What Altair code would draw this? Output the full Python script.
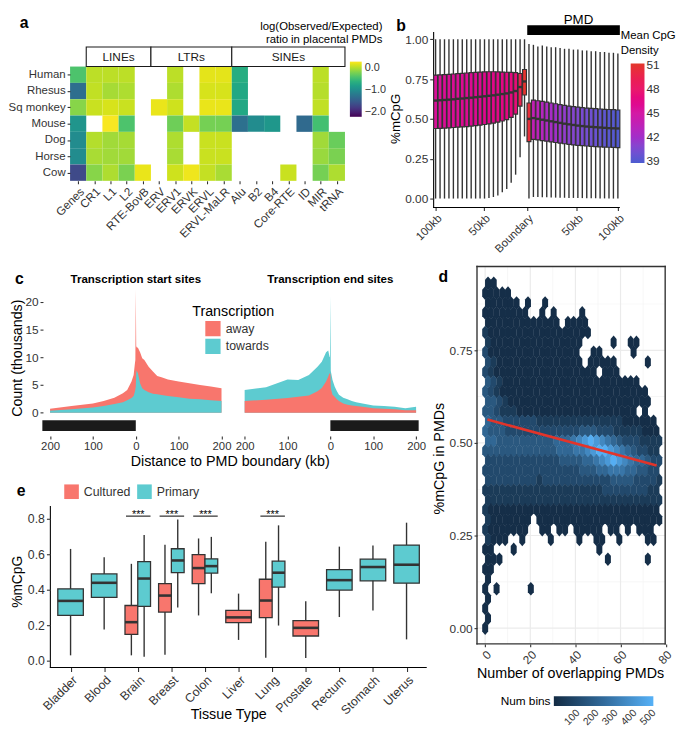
import altair as alt
import pandas as pd

FONT = "Liberation Sans"
DARK = "#333333"
SALMON = "#F8766D"
TEAL = "#5DCBD0"

# ======================= panel a data =======================
a_species = ["Human", "Rhesus", "Sq monkey", "Mouse", "Dog", "Horse", "Cow"]
a_elements = ["Genes", "CR1", "L1", "L2", "RTE-BovB", "ERV", "ERV1", "ERVK", "ERVL",
              "ERVL-MaLR", "Alu", "B2", "B4", "Core-RTE", "ID", "MIR", "tRNA"]
N = None
a_human = [-0.40, 0.05, 0.05, 0.05, N, N, 0.05, N, 0.20, 0.20, -0.65, N, N, N, N, 0.05, N]
a_rhesus = [-1.30, 0.07, -0.03, 0.00, N, N, 0.00, N, 0.15, 0.15, -0.70, N, N, N, N, 0.03, N]
a_sqmonkey = [-0.15, 0.10, 0.15, 0.10, N, 0.22, 0.12, N, 0.22, 0.22, -0.70, N, N, N, N, 0.07, N]
a_mouse = [-0.90, N, 0.28, -0.40, N, N, -0.25, 0.08, -0.22, -0.22, -1.28, -1.00, -0.88, N, -1.35, -0.45, N]
a_dog = [-1.00, 0.02, -0.05, -0.03, N, N, 0.00, N, 0.10, 0.10, N, N, N, N, N, -0.05, -0.27]
a_horse = [-1.00, -0.02, -0.05, -0.05, N, N, -0.02, N, 0.10, 0.10, N, N, N, N, N, -0.08, -0.20]
a_cow = [-1.65, -0.15, 0.00, -0.20, 0.22, N, 0.12, 0.24, 0.08, -0.02, N, N, N, 0.10, N, -0.22, 0.00]
a_groups = ["LINEs", "LTRs", "SINEs"]
a_group_first = ["CR1", "ERV", "Alu"]
a_group_last = ["RTE-BovB", "ERVL-MaLR", "tRNA"]

# ======================= panel b data =======================
b_tick_pos = [0, 10.86, 20.55, 31.8, 41]
b_tick_lab = ["100kb", "50kb", "Boundary", "50kb", "100kb"]
b_low_left = [0, 0, 0, 0, 0, 0, 0, 0, 0, 0, 0, 0, 0.003, 0.01, 0.02, 0.04, 0.06, 0.10, 0.15, 0.26, 0.39]
b_q1_left = [0.44, 0.441, 0.442, 0.444, 0.446, 0.448, 0.45, 0.452, 0.455, 0.458, 0.461, 0.465,
             0.469, 0.474, 0.48, 0.487, 0.495, 0.51, 0.53, 0.58, 0.65]
b_med_left = [0.615, 0.617, 0.619, 0.621, 0.623, 0.626, 0.628, 0.631, 0.633, 0.636, 0.639, 0.642,
              0.645, 0.648, 0.652, 0.656, 0.66, 0.666, 0.675, 0.70, 0.735]
b_q3_left = [0.775, 0.776, 0.778, 0.78, 0.782, 0.784, 0.786, 0.788, 0.79, 0.792, 0.794, 0.795,
             0.796, 0.796, 0.795, 0.794, 0.793, 0.792, 0.79, 0.785, 0.81]
b_high_left = [1.0] * 21
b_dens_left = [45.6, 45.6, 45.7, 45.7, 45.8, 45.8, 45.9, 45.9, 46.0, 46.0, 46.1, 46.2, 46.3,
               46.4, 46.5, 46.6, 46.8, 47.0, 47.3, 49.5, 51.0]
b_low_right = [0.0, 0.01, 0.01, 0.008, 0.008, 0.007, 0.006, 0.005, 0.005, 0.004, 0.004, 0.003,
               0.003, 0.002, 0.002, 0.002, 0.001, 0.001, 0.0, 0.0, 0.0]
b_q1_right = [0.357, 0.372, 0.368, 0.364, 0.36, 0.356, 0.352, 0.348, 0.344, 0.34, 0.337, 0.334,
              0.332, 0.33, 0.328, 0.326, 0.324, 0.323, 0.322, 0.321, 0.32]
b_med_right = [0.50, 0.505, 0.50, 0.495, 0.49, 0.485, 0.48, 0.475, 0.47, 0.466, 0.462, 0.458,
               0.455, 0.452, 0.45, 0.448, 0.446, 0.444, 0.442, 0.441, 0.44]
b_q3_right = [0.60, 0.618, 0.614, 0.61, 0.605, 0.60, 0.595, 0.59, 0.585, 0.58, 0.577, 0.574,
              0.571, 0.568, 0.566, 0.564, 0.562, 0.56, 0.559, 0.558, 0.556]
b_high_right = [0.97, 0.965, 0.955, 0.96, 0.955, 0.95, 0.95, 0.945, 0.94, 0.94, 0.935, 0.935,
                0.93, 0.93, 0.925, 0.925, 0.92, 0.92, 0.915, 0.915, 0.91]
b_dens_right = [50.5, 43.8, 43.4, 43.0, 42.6, 42.3, 42.0, 41.7, 41.4, 41.1, 40.9, 40.7, 40.5,
                40.3, 40.1, 39.9, 39.7, 39.5, 39.3, 39.2, 39.0]

# ======================= panel c data =======================
c_dist = [-200, -150, -100, -75, -50, -30, -20, -10, -5, -2, -1, 0, 1, 2, 5, 10, 15, 20, 30, 40,
          50, 60, 75, 100, 125, 150, 175, 200]
c_tss_away = [0.7, 1.2, 1.65, 2.1, 2.7, 3.5, 4.1, 5.6, 6.8, 8.9, 9.5, 22.2, 12.0, 11.8, 11.7, 10.9,
              9.8, 9.5, 8.3, 7.4, 6.6, 6.4, 6.0, 5.6, 5.3, 5.0, 4.7, 4.4]
c_tss_towards = [0.35, 0.6, 0.95, 1.2, 1.55, 1.9, 2.25, 2.65, 3.0, 3.8, 4.2, 4.7, 7.0, 7.6, 7.1,
                 5.3, 4.4, 4.1, 3.7, 3.4, 3.3, 3.2, 3.0, 2.8, 2.5, 2.4, 2.25, 2.1]
c_tes_towards = [4.1, 4.6, 6.0, 5.9, 6.8, 8.3, 9.2, 10.9, 11.2, 10.1, 10.0, 21.0, 7.5, 7.1, 5.9,
                 4.7, 3.9, 3.25, 2.7, 2.4, 2.1, 1.9, 1.65, 1.3, 1.2, 1.05, 0.8, 1.05]
c_tes_away = [2.1, 2.35, 2.65, 2.85, 3.1, 3.85, 4.45, 5.6, 6.5, 7.1, 7.0, 7.0, 4.5, 4.1, 3.25, 2.85,
              2.4, 2.1, 1.65, 1.45, 1.3, 1.2, 1.05, 0.8, 0.7, 0.6, 0.45, 0.45]
c_facets = ["Transcription start sites", "Transcription end sites"]
c_pmd_bar_start = [-218, 0]
c_pmd_bar_end = [0, 206]

# ======================= panel d data =======================
# hexbin counts: one string per hex row (top row first),
# one character per hex column; '.' = empty, '1'..'9' = count level
d_hex_rows = [
    "11",
    "11111",
    "111111.1..1",
    "11111111..1.1....1",
    "1111111111111.1111",
    "2111111111111111111",
    "21111111111111111.....1..11",
    "31111111111111111..11.....1",
    "32111111111111111.11111.....1",
    "32111111111111111111.111",
    "432111111111111111111111111",
    "43211111111111111111111111111",
    "44321111111111111111111111111",
    "443222111111111111111111111.1",
    "544333333222222222222222111111",
    "5444333333333333344433322222111",
    "5544444444445556789876543332222",
    "4444444444444555667899876543322",
    "3333333333333444455678987655433",
    "3333333333333333344455666554433",
    "3333333332333333333333444433332",
    "2222222222222222222223333333322",
    "2222222222222222222222222222222",
    "2111111111111111111111111111111",
    "21111111.1111111111111111111111",
    "21111111..11.11.11111.11.1.111",
    "2111..1....1....1..11..1....11",
    "11...1..............1",
    "111..................1......1",
    "11",
    "1",
    "1.1.....1",
    "1",
    "1",
    "1",
    "1",
]
d_level_count = {"1": 20, "2": 75, "3": 135, "4": 195, "5": 255, "6": 315, "7": 380, "8": 445, "9": 520}
d_hex_dx = 2.53
d_hex_dy = 0.0266
d_fit_x = [1, 76]
d_fit_y = [0.563, 0.439]
d_count_domain = [5, 530]
d_legend_values = [100, 200, 300, 400, 500]
d_panel_x = [-3.62, 79.78]      # panel limits (data units)
d_panel_y = [-0.0426, 0.9761]

# ======================= panel e data =======================
e_tissues = ["Bladder", "Blood", "Brain", "Breast", "Colon", "Liver", "Lung", "Prostate",
             "Rectum", "Stomach", "Uterus"]
e_tissue = ["Bladder", "Blood", "Brain", "Brain", "Breast", "Breast", "Colon", "Colon", "Liver",
            "Lung", "Lung", "Prostate", "Rectum", "Stomach", "Uterus"]
e_group = ["Primary", "Primary", "Cultured", "Primary", "Cultured", "Primary", "Cultured", "Primary",
           "Cultured", "Cultured", "Primary", "Cultured", "Primary", "Primary", "Primary"]
e_low = [0.03, 0.176, 0.03, 0.022, 0.033, 0.30, 0.255, 0.38, 0.117, 0.017, 0.198, 0.015, 0.246, 0.283, 0.12]
e_q1 = [0.255, 0.357, 0.148, 0.306, 0.274, 0.496, 0.435, 0.494, 0.215, 0.243, 0.415, 0.139, 0.398, 0.45, 0.437]
e_med = [0.337, 0.439, 0.217, 0.463, 0.367, 0.565, 0.522, 0.533, 0.244, 0.339, 0.496, 0.185, 0.454, 0.528, 0.541]
e_q3 = [0.405, 0.489, 0.311, 0.559, 0.435, 0.631, 0.598, 0.574, 0.283, 0.459, 0.561, 0.226, 0.513, 0.572, 0.652]
e_high = [0.63, 0.583, 0.546, 0.709, 0.654, 0.796, 0.689, 0.698, 0.378, 0.67, 0.763, 0.335, 0.643, 0.65, 0.778]
e_sig_tissues = ["Brain", "Breast", "Colon", "Lung"]
e_sig_label = "***"
e_sig_level = 0.815


# ======================= helpers =======================
def bg_layer(w, h):
    return alt.Chart(pd.DataFrame({"k": [0]})).mark_rect(opacity=0, strokeWidth=0).encode(
        x=alt.value(0), x2=alt.value(w), y=alt.value(0), y2=alt.value(h))


def px_rect(x1, x2, y1, y2, color):
    return alt.Chart(pd.DataFrame({"k": [0]})).mark_rect(color=color, strokeWidth=0).encode(
        x=alt.value(x1), x2=alt.value(x2), y=alt.value(y1), y2=alt.value(y2))


def px_line(x1, x2, y1, y2, color="black", width=1.1):
    return alt.Chart(pd.DataFrame({"k": [0]})).mark_rule(color=color, strokeWidth=width).encode(
        x=alt.value(x1), x2=alt.value(x2), y=alt.value(y1), y2=alt.value(y2))


def text_layer(text, x, y, size=16, weight="bold", align="left", color="black", angle=0,
               baseline="alphabetic"):
    return alt.Chart(pd.DataFrame({"t": [text]})).mark_text(
        font=FONT, fontSize=size, fontWeight=weight, align=align, angle=angle,
        baseline=baseline, color=color).encode(
        x=alt.value(x), y=alt.value(y), text="t:N")


def ytitle(text, x, y, size=14.5):
    return text_layer(text, x, y, size=size, weight="normal", align="center", angle=270,
                      baseline="middle")


def list_expr(items, fn="floor"):
    return "[" + ",".join("'" + s + "'" for s in items) + "][" + fn + "(datum.value)]"


def step_expr(pos, labs):
    expr = "'" + labs[-1] + "'"
    for k in range(len(pos) - 2, -1, -1):
        mid = (pos[k] + pos[k + 1]) / 2
        expr = "datum.value < " + str(mid) + " ? '" + labs[k] + "' : (" + expr + ")"
    return expr


def lin_scale(size, origin_px, px_per_unit, vertical=False):
    # domain that puts value 0 at origin_px (from left, or from top for vertical) in a range of `size` px
    if vertical:
        return alt.Scale(domain=[-(size - origin_px) / px_per_unit, origin_px / px_per_unit],
                         nice=False, zero=False)
    return alt.Scale(domain=[-origin_px / px_per_unit, (size - origin_px) / px_per_unit],
                     nice=False, zero=False)


# ======================= panel a =======================
A_W, A_H = 382, 247
n_sp, n_el = len(a_species), len(a_elements)
a_matrix = [a_human, a_rhesus, a_sqmonkey, a_mouse, a_dog, a_horse, a_cow]
cells = []
for si, (sp, rowvals) in enumerate(zip(a_species, a_matrix)):
    for ci, (el, v) in enumerate(zip(a_elements, rowvals)):
        if v is None:
            continue
        cells.append({"sp": sp, "el": el, "cx0": ci, "cx1": ci + 1,
                      "cy0": n_sp - 1 - si, "cy1": n_sp - si, "logoe": v})
df_a = pd.DataFrame(cells)
a_col0, a_colpx = 61, 279 / n_el
a_row0, a_rowpx = 170, 16.57
a_xs = lin_scale(A_W, a_col0, a_colpx)
a_ys = lin_scale(A_H, a_row0, a_rowpx, vertical=True)
a_xaxis = alt.Axis(values=[i + 0.5 for i in range(n_el)], labelExpr=list_expr(a_elements),
                   labelAngle=-45, labelAlign="right", labelBaseline="top", domain=False,
                   grid=False, tickSize=3, labelFlush=False, labelOverlap=False, title=None,
                   labelPadding=2, labelFontSize=11.8, offset=-(A_H - a_row0), zindex=2)
a_yaxis = alt.Axis(values=[i + 0.5 for i in range(n_sp)],
                   labelExpr=list_expr(list(reversed(a_species))), domain=False, grid=False,
                   tickSize=3, labelOverlap=False, title=None, labelPadding=2, labelFontSize=11.6,
                   offset=-a_col0, zindex=2)
heat = alt.Chart(df_a).mark_rect(strokeWidth=0).encode(
    x=alt.X("cx0:Q", scale=a_xs, axis=a_xaxis), x2="cx1:Q",
    y=alt.Y("cy0:Q", scale=a_ys, axis=a_yaxis), y2="cy1:Q",
    color=alt.Color("logoe:Q", scale=alt.Scale(scheme="viridis", domain=[-2.2, 0.3]),
                    legend=alt.Legend(orient="none", legendX=345, legendY=49, title=None,
                                      direction="vertical", gradientLength=56,
                                      gradientThickness=12, gradientStrokeWidth=0,
                                      values=[0.0, -1.0, -2.0], format=".1f",
                                      labelFontSize=11, labelOffset=3)))
df_strip = pd.DataFrame({"grp": a_groups,
                         "s0": [a_elements.index(f) for f in a_group_first],
                         "s1": [a_elements.index(l) + 1 for l in a_group_last]})
df_strip["smid"] = (df_strip["s0"] + df_strip["s1"]) / 2
df_strip["sy0"] = n_sp
df_strip["sy1"] = n_sp + 1.2
df_strip["symid"] = n_sp + 0.6
strip = alt.Chart(df_strip).mark_rect(fill="white", stroke="#1a1a1a", strokeWidth=1.1).encode(
    x=alt.X("s0:Q", scale=a_xs, axis=a_xaxis), x2="s1:Q",
    y=alt.Y("sy0:Q", scale=a_ys, axis=a_yaxis), y2="sy1:Q")
strip_txt = alt.Chart(df_strip).mark_text(font=FONT, fontSize=12, color="#1a1a1a").encode(
    x=alt.X("smid:Q", scale=a_xs, axis=a_xaxis), y=alt.Y("symid:Q", scale=a_ys, axis=a_yaxis),
    text="grp:N")
panel_a = alt.layer(
    bg_layer(A_W, A_H), heat, strip, strip_txt,
    text_layer("log(Observed/Expected)", 378, 17, size=11.5, weight="normal", align="right"),
    text_layer("ratio in placental PMDs", 378, 30, size=11.5, weight="normal", align="right"),
    text_layer("a", 10, 15),
).properties(width=A_W, height=A_H)

# ======================= panel b =======================
B_W, B_H = 295, 247
df_b = pd.DataFrame({
    "bp": list(range(42)),
    "blo": b_low_left + b_low_right, "bq1": b_q1_left + b_q1_right,
    "bmed": b_med_left + b_med_right, "bq3": b_q3_left + b_q3_right,
    "bhi": b_high_left + b_high_right, "dens": b_dens_left + b_dens_right})
df_b["bl"] = df_b["bp"] - 0.44
df_b["br"] = df_b["bp"] + 0.44
b_xs = lin_scale(B_W, 50, 4.512)
b_ys = lin_scale(B_H, 188, 161.7, vertical=True)
b_xaxis = alt.Axis(values=b_tick_pos, labelExpr=step_expr(b_tick_pos, b_tick_lab), labelAngle=-45,
                   labelAlign="right", labelBaseline="top", grid=False, domain=False, tickSize=3,
                   labelFlush=False, labelOverlap=False, title=None, labelFontSize=11.5,
                   offset=-(B_H - 197), zindex=2)
b_yaxis = alt.Axis(values=[0, 0.25, 0.5, 0.75, 1.0], format=".2f", grid=False, domain=False,
                   tickSize=4, title=None, labelFontSize=12, offset=-48, zindex=2)
b_whisk = alt.Chart(df_b).mark_rule(color=DARK, strokeWidth=1.4).encode(
    x=alt.X("bp:Q", scale=b_xs, axis=b_xaxis),
    y=alt.Y("blo:Q", scale=b_ys, axis=b_yaxis), y2="bhi:Q")
b_boxes = alt.Chart(df_b).mark_rect(stroke=DARK, strokeWidth=1.2).encode(
    x=alt.X("bl:Q", scale=b_xs, axis=b_xaxis), x2="br:Q",
    y=alt.Y("bq1:Q", scale=b_ys, axis=b_yaxis), y2="bq3:Q",
    color=alt.Color("dens:Q", scale=alt.Scale(
        domain=[38.8, 42, 45, 48, 51.2],
        range=["#4B5CCF", "#A12FC9", "#D31AA5", "#E9196B", "#E3382B"]),
        legend=alt.Legend(orient="none", legendX=248, legendY=51, title=None,
                          gradientLength=101, gradientThickness=14, gradientStrokeWidth=0,
                          values=[39, 42, 45, 48, 51], format="d", labelFontSize=12)))
b_meds = alt.Chart(df_b).mark_rule(color=DARK, strokeWidth=2.4).encode(
    x=alt.X("bl:Q", scale=b_xs, axis=b_xaxis), x2="br:Q",
    y=alt.Y("bmed:Q", scale=b_ys, axis=b_yaxis))
panel_b = alt.layer(
    bg_layer(B_W, B_H),
    px_line(48, 48, 19, 197.5), px_line(47.5, 237, 197, 197),
    b_whisk, b_boxes, b_meds,
    px_rect(143, 237, 12, 22, "black"),
    text_layer("PMD", 195, 11, size=13.5, weight="normal", align="center"),
    text_layer("Mean CpG", 238, 26.5, size=11.5, weight="normal"),
    text_layer("Density", 238, 41.5, size=11.5, weight="normal"),
    text_layer("b", 10, 18),
    ytitle("%mCpG", 10, 107, size=13.5),
).properties(width=B_W, height=B_H)

# ======================= panel c =======================
C_W, C_H = 424, 223
C_SHIFT = 454
c_series = [
    (c_facets[0], "away", c_tss_away, 0),
    (c_facets[0], "towards", c_tss_towards, 0),
    (c_facets[1], "towards", c_tes_towards, C_SHIFT),
    (c_facets[1], "away", c_tes_away, C_SHIFT),
]
c_recs = []
for fac, grp, vals, sh in c_series:
    for xv, yv in zip(c_dist, vals):
        c_recs.append({"facet": fac, "grp": grp, "xp": xv + sh, "cnt": yv, "zero": 0})
df_c = pd.DataFrame(c_recs)
c_xs = lin_scale(C_W, 127.7, 0.435)
c_ys = lin_scale(C_H, 158.3, 5.63, vertical=True)
c_xaxis = alt.Axis(
    values=[-200, -100, 0, 100, 200, C_SHIFT - 200, C_SHIFT - 100, C_SHIFT, C_SHIFT + 100, C_SHIFT + 200],
    labelExpr="datum.value < 230 ? abs(datum.value) : abs(datum.value - " + str(C_SHIFT) + ")",
    offset=-(C_H - 182), domain=False, tickSize=3, title=None, grid=False, labelFlush=False,
    labelOverlap=False, labelFontSize=11.5, labelPadding=2, zindex=2)
c_yaxis = alt.Axis(values=[0, 5, 10, 15, 20], title=None, domain=False, tickSize=3,
                   grid=False, labelFontSize=12, labelPadding=2, offset=-33.5, zindex=2)
c_col = alt.Color("grp:N", scale=alt.Scale(domain=["away", "towards"], range=[SALMON, TEAL]),
                  legend=alt.Legend(orient="none", legendX=198, legendY=65, title=None,
                                    symbolType="square", symbolSize=240, symbolStrokeWidth=0,
                                    labelFontSize=12.5, rowPadding=2, labelOffset=5))
c_layers = []
for fac, grp, vals, sh in c_series:
    c_layers.append(
        alt.Chart(df_c).transform_filter(
            "datum.facet == '" + fac + "' && datum.grp == '" + grp + "'"
        ).mark_area(interpolate="linear", opacity=1).encode(
            x=alt.X("xp:Q", scale=c_xs, axis=c_xaxis),
            y=alt.Y("cnt:Q", scale=c_ys, axis=c_yaxis), y2="zero:Q", color=c_col))
df_cbar = pd.DataFrame({"bx0": [c_pmd_bar_start[0], c_pmd_bar_start[1] + C_SHIFT],
                        "bx1": [c_pmd_bar_end[0], c_pmd_bar_end[1] + C_SHIFT]})
c_bars = alt.Chart(df_cbar).mark_rect(color="#1a1a1a").encode(
    x=alt.X("bx0:Q", scale=c_xs, axis=c_xaxis), x2="bx1:Q", y=alt.value(166), y2=alt.value(177))
df_ctitle = pd.DataFrame({"ft": c_facets, "fx": [0, C_SHIFT]})
c_titles = alt.Chart(df_ctitle).mark_text(font=FONT, fontSize=11.7, fontWeight="bold",
                                          baseline="alphabetic").encode(
    x=alt.X("fx:Q", scale=c_xs, axis=c_xaxis), y=alt.value(27), text="ft:N")
panel_c = alt.layer(
    bg_layer(C_W, C_H), *c_layers, c_bars, c_titles,
    text_layer("Transcription", 185, 60, size=14.5, weight="normal"),
    text_layer("Distance to PMD boundary (kb)", 223.5, 212, size=14.5, weight="normal", align="center"),
    text_layer("c", 5, 28),
    ytitle("Count (thousands)", 8, 103),
).properties(width=C_W, height=C_H)

# ======================= panel e =======================
E_W, E_H = 424, 255
e_pos, e_wid = [], []
for t, g in zip(e_tissue, e_group):
    i = e_tissues.index(t)
    if e_tissue.count(t) == 2:
        e_pos.append(i + (-0.19 if g == "Cultured" else 0.19))
        e_wid.append(0.38)
    else:
        e_pos.append(i)
        e_wid.append(0.76)
df_e = pd.DataFrame({"tis": e_tissue, "eg": e_group, "ep": e_pos, "elo": e_low, "eq1": e_q1,
                     "emed": e_med, "eq3": e_q3, "ehi": e_high})
df_e["el"] = df_e["ep"] - pd.Series(e_wid) / 2
df_e["er"] = df_e["ep"] + pd.Series(e_wid) / 2
e_xs = lin_scale(E_W, 61.5, 34.1)
e_ys = lin_scale(E_H, 187, 180, vertical=True)
e_xaxis = alt.Axis(values=list(range(len(e_tissues))), labelExpr=list_expr(e_tissues, "round"),
                   labelAngle=-45, labelAlign="right", labelBaseline="top", grid=False,
                   domain=False, tickSize=4, labelFlush=False, labelOverlap=False,
                   title=None, labelFontSize=12.5, offset=-(E_H - 194), zindex=2)
e_yaxis = alt.Axis(values=[0, 0.2, 0.4, 0.6, 0.8], format=".1f", grid=False, domain=False,
                   tickSize=4, title=None, labelFontSize=12.5, offset=-41, zindex=2)
e_whisk = alt.Chart(df_e).mark_rule(color=DARK, strokeWidth=1.4).encode(
    x=alt.X("ep:Q", scale=e_xs, axis=e_xaxis),
    y=alt.Y("elo:Q", scale=e_ys, axis=e_yaxis), y2="ehi:Q")
e_boxes = alt.Chart(df_e).mark_rect(stroke=DARK, strokeWidth=1.3).encode(
    x=alt.X("el:Q", scale=e_xs, axis=e_xaxis), x2="er:Q",
    y=alt.Y("eq1:Q", scale=e_ys, axis=e_yaxis), y2="eq3:Q",
    color=alt.Color("eg:N", scale=alt.Scale(domain=["Cultured", "Primary"], range=[SALMON, TEAL]),
                    legend=alt.Legend(orient="none", legendX=55, legendY=8, direction="horizontal",
                                      title=None, symbolType="square", symbolSize=220,
                                      symbolStrokeWidth=0, labelFontSize=12.5, columnPadding=6,
                                      labelOffset=5)))
e_meds = alt.Chart(df_e).mark_rule(color=DARK, strokeWidth=2.6).encode(
    x=alt.X("el:Q", scale=e_xs, axis=e_xaxis), x2="er:Q",
    y=alt.Y("emed:Q", scale=e_ys, axis=e_yaxis))
df_sig = pd.DataFrame({"sp": [e_tissues.index(t) for t in e_sig_tissues],
                       "lab": [e_sig_label] * len(e_sig_tissues),
                       "lev": [e_sig_level] * len(e_sig_tissues)})
df_sig["s0"] = df_sig["sp"] - 0.35
df_sig["s1"] = df_sig["sp"] + 0.38
df_sig["sm"] = df_sig["sp"] + 0.015
e_sig_rules = alt.Chart(df_sig).mark_rule(color="black", strokeWidth=1).encode(
    x=alt.X("s0:Q", scale=e_xs, axis=e_xaxis), x2="s1:Q",
    y=alt.Y("lev:Q", scale=e_ys, axis=e_yaxis))
e_sig_text = alt.Chart(df_sig).mark_text(font=FONT, fontSize=11, baseline="alphabetic", dy=2,
                                         color="black").encode(
    x=alt.X("sm:Q", scale=e_xs, axis=e_xaxis), y=alt.Y("lev:Q", scale=e_ys, axis=e_yaxis),
    text="lab:N")
panel_e = alt.layer(
    bg_layer(E_W, E_H),
    px_line(41, 41, 30, 194.5), px_line(40.5, 423, 194, 194),
    e_whisk, e_boxes, e_meds, e_sig_rules, e_sig_text,
    text_layer("e", 7, 20),
    ytitle("%mCpG", 8, 107, size=14),
    text_layer("Tissue Type", 222, 246, size=14.5, weight="normal", align="center"),
).properties(width=E_W, height=E_H)

# ======================= panel d =======================
D_W, D_H = 253, 478
D_X0, D_XPX = 58.3, 2.29
D_Y0, D_YPX = 377, 376
hex_recs = []
n_hr = len(d_hex_rows)
for k, s in enumerate(d_hex_rows):
    r = n_hr - 1 - k
    for c, ch in enumerate(s):
        if ch == ".":
            continue
        hex_recs.append({"hx": c * d_hex_dx + (d_hex_dx / 2 if r % 2 else 0),
                         "hy": r * d_hex_dy, "nb": d_level_count[ch]})
df_hex = pd.DataFrame(hex_recs)
d_xs = lin_scale(D_W, D_X0, D_XPX)
d_ys = lin_scale(D_H, D_Y0, D_YPX, vertical=True)
d_xaxis = alt.Axis(values=[0, 20, 40, 60, 80], labelAngle=-45, labelAlign="right",
                   labelBaseline="top", grid=False, domain=False, tickSize=3, labelFlush=False,
                   labelOverlap=False, title=None, labelFontSize=12, offset=-(D_H - 393), zindex=2)
d_yaxis = alt.Axis(values=[0, 0.25, 0.5, 0.75], format=".2f", grid=False, domain=False,
                   tickSize=3, title=None, labelFontSize=12, offset=-50, zindex=2)
HEX = "M0,-1L0.44,-0.5L0.44,0.5L0,1L-0.44,0.5L-0.44,-0.5Z"
D_LOW, D_HIGH = "#132B43", "#56B1F7"
# pixel extent of the panel box, derived from its data limits
d_px_left = D_X0 + d_panel_x[0] * D_XPX
d_px_right = D_X0 + d_panel_x[1] * D_XPX
d_px_top = D_Y0 - d_panel_y[1] * D_YPX
d_px_bottom = D_Y0 - d_panel_y[0] * D_YPX


def d_vbands(vals, color, width_px, name):
    half = width_px / 2 / D_XPX
    df = pd.DataFrame({name: [v - half for v in vals], name + "e": [v + half for v in vals]})
    return alt.Chart(df).mark_rect(color=color, strokeWidth=0).encode(
        x=alt.X(name + ":Q", scale=d_xs, axis=d_xaxis), x2=name + "e:Q",
        y=alt.value(d_px_top), y2=alt.value(d_px_bottom))


def d_hbands(vals, color, width_px, name):
    half = width_px / 2 / D_YPX
    df = pd.DataFrame({name: [v - half for v in vals], name + "e": [v + half for v in vals]})
    return alt.Chart(df).mark_rect(color=color, strokeWidth=0).encode(
        y=alt.Y(name + ":Q", scale=d_ys, axis=d_yaxis), y2=name + "e:Q",
        x=alt.value(d_px_left), x2=alt.value(d_px_right))


d_hexes = alt.Chart(df_hex).mark_point(shape=HEX, filled=True, size=190, opacity=1).encode(
    x=alt.X("hx:Q", scale=d_xs, axis=d_xaxis),
    y=alt.Y("hy:Q", scale=d_ys, axis=d_yaxis),
    color=alt.Color("nb:Q", scale=alt.Scale(domain=d_count_domain, range=[D_LOW, D_HIGH],
                                            interpolate="lab"), legend=None))
d_fit = alt.Chart(pd.DataFrame({"fx": d_fit_x, "fy": d_fit_y})).mark_line(
    color="#E3342A", strokeWidth=2.6).encode(
    x=alt.X("fx:Q", scale=d_xs, axis=d_xaxis), y=alt.Y("fy:Q", scale=d_ys, axis=d_yaxis))
# colour bar guide for "Num bins" (drawn by hand so its labels can be slanted)
LEG_X0, LEG_LEN = 128, 101
leg_bar = alt.Chart(pd.DataFrame({"k": [0]})).mark_rect(
    color=alt.LinearGradient(gradient="linear", x1=0, x2=1, y1=0, y2=0,
                             stops=[alt.GradientStop(offset=0, color=D_LOW),
                                    alt.GradientStop(offset=0.5, color="#316A9B"),
                                    alt.GradientStop(offset=1, color=D_HIGH)])).encode(
    x=alt.value(LEG_X0), x2=alt.value(LEG_X0 + LEG_LEN), y=alt.value(446), y2=alt.value(456))
leg_px = [LEG_X0 + (v - d_count_domain[0]) / (d_count_domain[1] - d_count_domain[0]) * LEG_LEN
          for v in d_legend_values]
df_leg = pd.DataFrame({"lv": [str(v) for v in d_legend_values],
                       "lx": [(p + 3 - D_X0) / D_XPX for p in leg_px]})
leg_labels = alt.Chart(df_leg).mark_text(font=FONT, fontSize=10.5, angle=315, align="right",
                                         baseline="top", color=DARK).encode(
    x=alt.X("lx:Q", scale=d_xs, axis=d_xaxis), y=alt.value(458), text="lv:N")
panel_d = alt.layer(
    bg_layer(D_W, D_H),
    d_vbands([10, 30, 50, 70], "#F3F3F3", 0.7, "gxm"),
    d_hbands([0.125, 0.375, 0.625, 0.875], "#F3F3F3", 0.7, "gym"),
    d_vbands([0, 20, 40, 60], "#EBEBEB", 1.2, "gx"),
    d_hbands([0, 0.25, 0.5, 0.75], "#EBEBEB", 1.2, "gy"),
    d_hexes, d_fit,
    px_rect(d_px_left - 0.7, d_px_right + 0.7, d_px_top - 0.7, d_px_top + 0.7, DARK),
    px_rect(d_px_left - 0.7, d_px_right + 0.7, d_px_bottom - 0.7, d_px_bottom + 0.7, DARK),
    px_rect(d_px_left - 0.7, d_px_left + 0.7, d_px_top - 0.7, d_px_bottom + 0.7, DARK),
    px_rect(d_px_right - 0.7, d_px_right + 0.7, d_px_top - 0.7, d_px_bottom + 0.7, DARK),
    leg_bar, leg_labels,
    text_layer("Num bins", 74, 455, size=12, weight="normal"),
    text_layer("d", 11, 26),
    ytitle("%mCpG in PMDs", 13, 205),
    text_layer("Number of overlapping PMDs", 145, 428, size=14.5, weight="normal", align="center"),
).properties(width=D_W, height=D_H)

# ======================= layout =======================
row1 = alt.hconcat(panel_a, panel_b, spacing=0).resolve_scale(color="independent")
left = alt.vconcat(panel_c, panel_e, spacing=0).resolve_scale(color="independent")
row2 = alt.hconcat(left, panel_d, spacing=0).resolve_scale(color="independent")
chart = alt.vconcat(row1, row2, spacing=0).resolve_scale(color="independent").properties(padding=0)
chart = chart.configure(font=FONT).configure_view(stroke=None).configure_axis(
    labelFont=FONT, titleFont=FONT, labelColor=DARK, titleColor="black",
    titleFontWeight="normal", tickColor=DARK, domainColor="black", domainWidth=1.1,
    tickWidth=1.1).configure_legend(labelFont=FONT, titleFont=FONT, labelColor=DARK,
                                    titleColor="black", titleFontWeight="normal")

chart.save("out.html", embed_options={"renderer": "svg", "actions": False})
